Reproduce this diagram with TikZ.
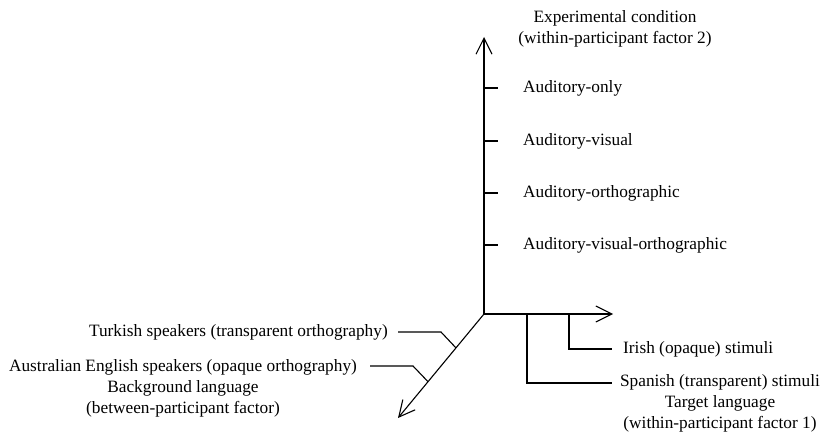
\documentclass[tikz,border=0pt]{standalone}
\usepackage{fontspec}
\setmainfont{Liberation Serif}
\usetikzlibrary{arrows.meta,positioning,calc}

\begin{document}
\begin{tikzpicture}[
  x=1pt, y=1pt,
  axis/.style={line width=1.1pt, -{Straight Barb[length=16pt, width=16pt, line width=1.1pt]}},
  tick/.style={line width=1.1pt},
  lab/.style={font=\fontsize{17.3}{21}\selectfont, inner sep=0pt},
  blocklab/.style={lab, align=center},
]
\useasboundingbox (0,0) rectangle (827,433);

% ─── Axes ───
\coordinate (O) at (484,119);
\coordinate (up) at (484,396);
\coordinate (right) at (613,119);
\coordinate (down) at (398,15);
\draw[axis] (O) -- (up);
\draw[axis] (O) -- (right);
\draw[axis] (O) -- (down);

% ─── Vertical axis: experimental condition ───
\node[blocklab] (cond) at (615,404) {Experimental condition\\(within-participant factor 2)};
\foreach \y/\name/\txt in {345/ao/Auditory-only, 292/av/Auditory-visual,
    240/ag/Auditory-orthographic, 188/avg/Auditory-visual-orthographic} {
  \coordinate (\name) at (484,\y);
  \coordinate (\name t) at (498,\y);
  \draw[tick] (\name) -- (\name t);
  \node[lab, anchor=west] (\name lab) at (523,\y) {\txt};
}

% ─── Horizontal axis: target language ───
\coordinate (ir) at (569,119);
\coordinate (irb) at (569,84);
\coordinate (ire) at (612,84);
\draw[tick] (ir) -- (irb) -- (ire);
\node[lab, right=11pt of ire] (irlab) {Irish (opaque) stimuli};

\coordinate (sp) at (527,119);
\coordinate (spb) at (527,50);
\coordinate (spe) at (612,50);
\draw[tick] (sp) -- (spb) -- (spe);
\node[blocklab] (target) at (720,30) {Spanish (transparent) stimuli\\Target language\\(within-participant factor 1)};

% ─── Diagonal axis: background language ───
\coordinate (tka) at ($(O)!0.326!(down)$);
\coordinate (tkb) at (441,101);
\coordinate (tks) at (398,101);
\draw[tick] (tks) -- (tkb) -- (tka);
\node[lab, left=10pt of tks] (tklab) {Turkish speakers (transparent orthography)};

\coordinate (aua) at ($(O)!0.651!(down)$);
\coordinate (aub) at (413,67);
\coordinate (aus) at (370,67);
\draw[tick] (aus) -- (aub) -- (aua);
\node[blocklab] (backgr) at (183,45) {Australian English speakers (opaque orthography)\\Background language\\(between-participant factor)};

\end{tikzpicture}
\end{document}
